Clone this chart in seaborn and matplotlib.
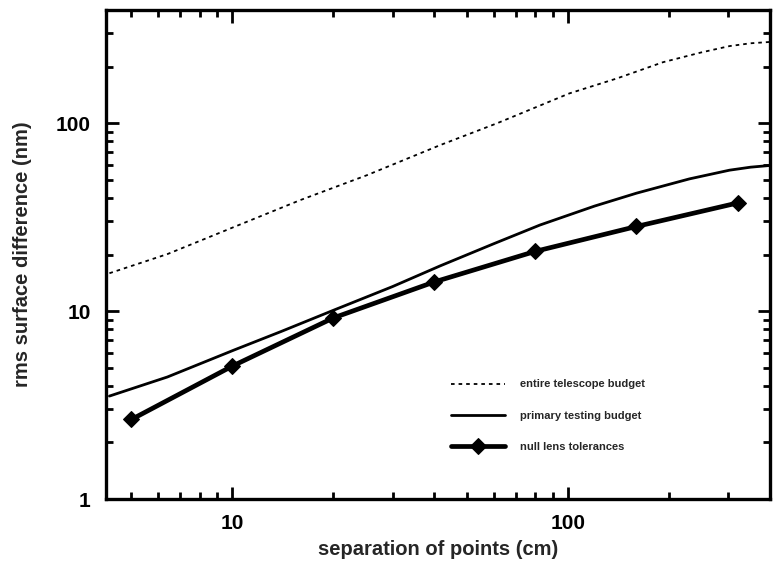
import numpy as np
import pandas as pd
import seaborn as sns
import matplotlib
matplotlib.use("Agg")
import matplotlib.pyplot as plt
from matplotlib.ticker import LogLocator, FixedLocator, NullFormatter, FixedFormatter

# data
# entire telescope budget (dotted curve)
tel_x = [4.3, 6.4, 10.1, 15.9, 25.2, 41.6, 61.6, 101, 140, 192, 250, 303, 350, 420]
tel_y = [15.9, 20.1, 28.0, 38.9, 52.9, 76.4, 100, 144, 173, 211, 238, 257, 266, 272]

# primary testing budget (solid curve)
prim_x = [4.3, 6.4, 10.1, 14, 20.0, 30, 41.6, 60, 82.5, 120, 160, 230, 303, 350, 420]
prim_y = [3.53, 4.46, 6.2, 7.8, 10.1, 13.5, 17.4, 22.8, 28.7, 36.2, 42.4, 50.5, 56.2, 58.3, 60.0]

# null lens tolerances (thick line + diamonds)
null_x = [5, 10, 20, 40, 80, 160, 320]
null_y = [2.65, 5.1, 9.2, 14.3, 20.8, 28.2, 37.6]

labels = ["entire telescope budget", "primary testing budget", "null lens tolerances"]

sns.set_style("ticks")
plt.rcParams["font.family"] = ["Liberation Sans", "DejaVu Sans"]
plt.rcParams["font.weight"] = "bold"

fig = plt.figure(figsize=(7.76, 5.64), dpi=100)
ax = fig.add_axes([0.1366, 0.1152, 0.8557, 0.8671])

sns.lineplot(x=tel_x, y=tel_y, ax=ax, color="black", lw=1.3,
             linestyle=(0, (2, 2.2)), label=labels[0], sort=False)
sns.lineplot(x=prim_x, y=prim_y, ax=ax, color="black", lw=2.0,
             label=labels[1], sort=False)
sns.lineplot(x=null_x, y=null_y, ax=ax, color="black", lw=3.4,
             marker="D", markersize=8, markeredgecolor="black",
             label=labels[2], sort=False)

ax.set_xscale("log")
ax.set_yscale("log")
ax.set_xlim(4.2, 400)
ax.set_ylim(1, 400)

ax.xaxis.set_major_locator(FixedLocator([10, 100]))
ax.xaxis.set_major_formatter(FixedFormatter(["10", "100"]))
ax.yaxis.set_major_locator(FixedLocator([1, 10, 100]))
ax.yaxis.set_major_formatter(FixedFormatter(["1", "10", "100"]))
ax.xaxis.set_minor_locator(LogLocator(base=10, subs=np.arange(2, 10)))
ax.yaxis.set_minor_locator(LogLocator(base=10, subs=np.arange(2, 10)))
ax.xaxis.set_minor_formatter(NullFormatter())
ax.yaxis.set_minor_formatter(NullFormatter())

ax.tick_params(which="both", direction="in", top=True, right=True,
               width=2, labelsize=15, colors="black")
ax.tick_params(which="major", length=9, pad=11)
ax.tick_params(which="minor", length=5)
for s in ax.spines.values():
    s.set_linewidth(2.4)
    s.set_color("black")

ax.set_xlabel("separation of points (cm)", fontsize=14.5, fontweight="bold", labelpad=5)
ax.set_ylabel("rms surface difference (nm)", fontsize=14.5, fontweight="bold", labelpad=17)

leg = ax.legend(loc="upper left", bbox_to_anchor=(0.505, 0.265), frameon=False,
                handlelength=4.8, handletextpad=1.4, labelspacing=1.9,
                prop={"weight": "bold", "size": 8})

fig.savefig("out.png", dpi=100)
